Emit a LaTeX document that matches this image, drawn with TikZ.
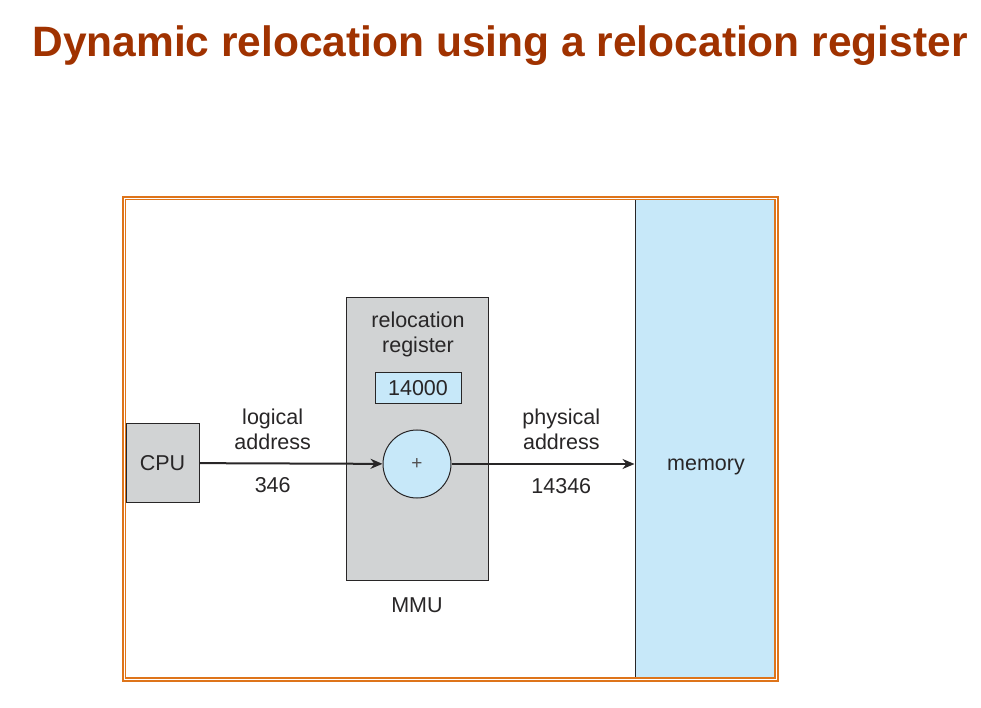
\documentclass[tikz,border=0pt]{standalone}
\usepackage{fontspec}
\setmainfont{Liberation Sans}
\usepackage{xcolor}
\definecolor{mtitle}{RGB}{160,50,0}
\definecolor{mframe}{RGB}{222,116,26}
\definecolor{mblue}{RGB}{199,232,249}
\definecolor{mgray}{RGB}{209,211,212}
\definecolor{mink}{RGB}{40,38,39}
\usepackage{tikz}
\usetikzlibrary{positioning}
\usetikzlibrary{arrows.meta}

\begin{document}
\begin{tikzpicture}[x=1pt, y=1pt,
    every node/.style={inner sep=0pt, text=mink, font=\fontsize{21.5}{25}\selectfont},
    box/.style={draw=mink, line width=1pt, rectangle},
    graybox/.style={box, fill=mgray},
    bluebox/.style={box, fill=mblue},
    arrow/.style={-{Stealth[length=12pt, width=10pt]}, line width=2pt, draw=mink},
    frame/.style={draw=mframe, line width=1.3pt, double=white, double distance=1.5pt},
]
\useasboundingbox[fill=white] (0,0) rectangle (981,707);

% title
\node[anchor=base, text=mtitle, font=\fontsize{42.5}{50}\selectfont\bfseries] (title) at (500,650) {Dynamic relocation using a relocation register};

% memory and boxes
\node[bluebox, minimum width=140.5, minimum height=478] (memory) at (705.25,268) {};
\node[graybox, minimum width=73, minimum height=78] (cpu) at (162.5,244) {CPU};
\node[graybox, minimum width=142, minimum height=282] (mmu) at (417,268) {};
\node[bluebox, minimum width=86, minimum height=31] (reg) at (418,318.5) {14000};
\node[bluebox, circle, minimum size=68] (adder) at (417,243) {\fontsize{19}{20}\selectfont\color{mink!80}+};

% labels
\node[align=center] (reglabel) at (418,373) {relocation\\register};
\node[below=17pt of mmu] (mmulabel) {MMU};
\node (memlabel) at (706,240) {memory};

% connectors
\draw[arrow] (cpu) -- (adder)
    node[pos=.4, above=13pt, align=center] (logical) {logical\\address}
    node[pos=.4, below=13pt] (laddr) {346};
\draw[arrow] (adder) -- (memory.west |- adder)
    node[pos=.6, above=13pt, align=center] (physical) {physical\\address}
    node[pos=.6, below=13pt] (paddr) {14346};

% to frame the whole figure
\draw[frame] (124.3,508.7) rectangle (776.5,27.5);

\end{tikzpicture}
\end{document}
